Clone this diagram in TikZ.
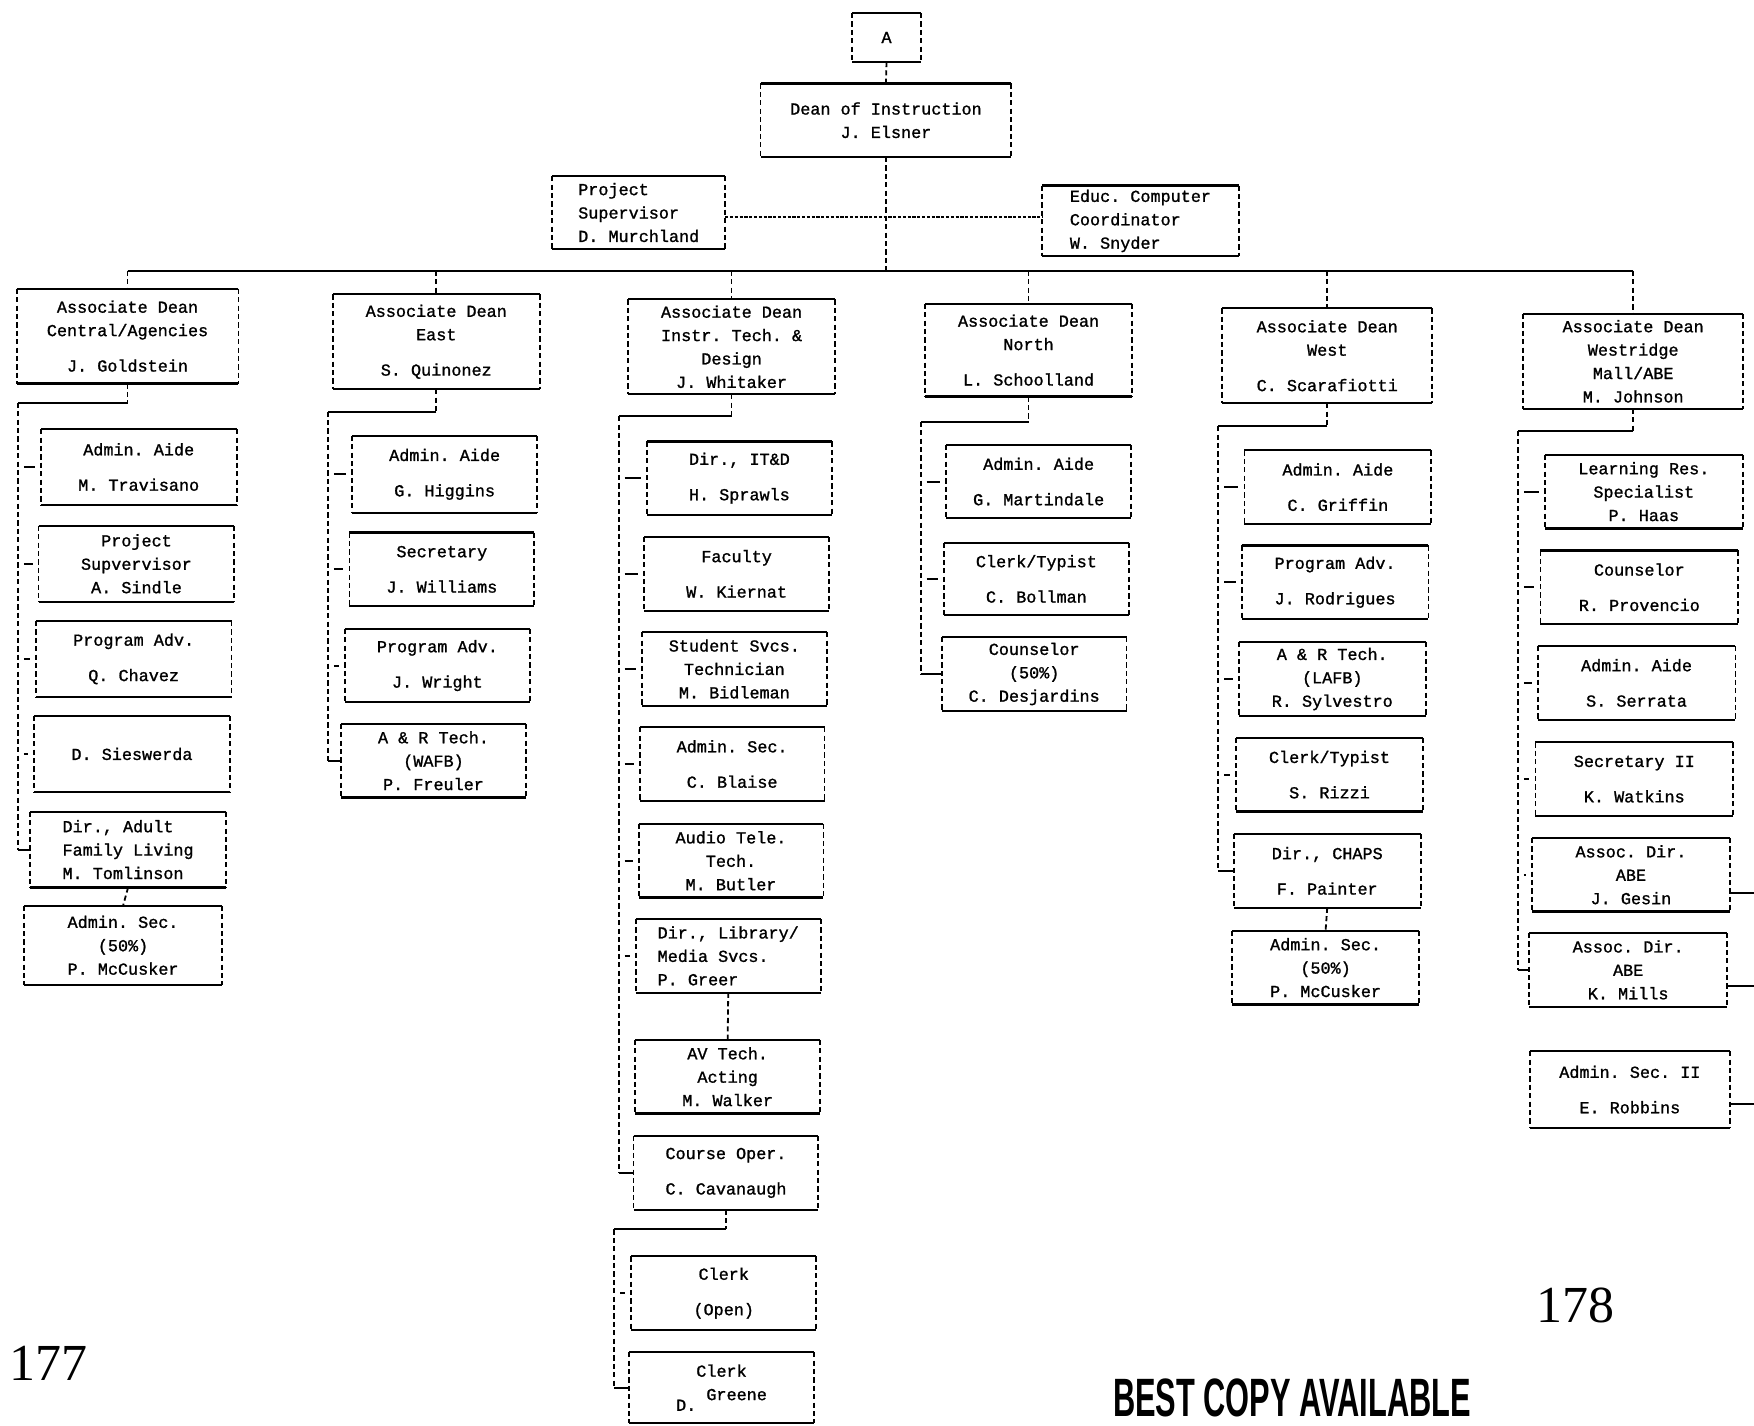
\documentclass[tikz,border=0pt]{standalone}
\usepackage{fontspec}
\setmonofont[FakeBold=1.2]{Liberation Mono}
\newfontfamily\numfont{Liberation Serif}
\newfontfamily\stampfont{Liberation Sans}
\newcommand\unitfont{\ttfamily\fontsize{8.4}{11.7}\selectfont}

\tikzset{
  unit/.style={font=\unitfont, align=center, inner sep=1pt, minimum width=92pt, minimum height=36.4pt},
  wideunit/.style={unit, minimum width=97.5pt, minimum height=37.5pt},
  broadunit/.style={unit, minimum width=98.5pt},
  adean/.style={unit, minimum width=103pt, minimum height=47pt},
  rim/.style={line width=1.1pt},
  side/.style={line width=0.9pt, dash pattern=on 2.6pt off 1.6pt},
  vlink/.style={line width=0.9pt, dash pattern=on 2.6pt off 1.6pt},
  hlink/.style={line width=1pt},
  tick/.style={line width=1pt, shorten <=3pt, shorten >=3pt},
  staff/.style={line width=0.9pt, dash pattern=on 1.6pt off 0.8pt},
}

\begin{document}
\begin{tikzpicture}[x=0.5593pt,y=0.5593pt,yscale=-1,xscale=1]
\useasboundingbox (0,0) rectangle (1568,1274);

% Top of the chart
\node[unit, minimum width=34pt, minimum height=24pt] (a) at (792.5,33.5) {A};
\node[unit, minimum width=125pt] (dean) at (792,107.5) {Dean of Instruction\\J. Elsner};
\node[unit, align=left, minimum width=86pt, minimum height=36pt] (ps) at (571,190) {Project\\Supervisor\\D. Murchland};
\node[unit, align=left, minimum width=98pt, minimum height=35pt] (ec) at (1019.5,197.5) {Educ. Computer\\Coordinator\\W. Snyder};

% Associate Deans
\node[adean, minimum width=110.5pt] (ad1) at (114,300.5) {Associate Dean\\Central/Agencies\\[6pt]J. Goldstein};
\node[adean] (ad2) at (390,305.5) {Associate Dean\\East\\[6pt]S. Quinonez};
\node[adean] (ad3) at (654,310) {Associate Dean\\Instr. Tech. \&\\Design\\J. Whitaker};
\node[adean, minimum height=46pt] (ad4) at (919.5,313) {Associate Dean\\North\\[6pt]L. Schoolland};
\node[adean, minimum width=104.5pt] (ad5) at (1186.5,318) {Associate Dean\\West\\[6pt]C. Scarafiotti};
\node[adean, minimum width=109.5pt] (ad6) at (1460,323) {Associate Dean\\Westridge\\Mall/ABE\\M. Johnson};

% Central/Agencies
\node[wideunit] (c11) at (124,417.5) {Admin. Aide\\[6pt]M. Travisano};
\node[wideunit] (c12) at (122,504) {Project\\Supvervisor\\A. Sindle};
\node[wideunit] (c13) at (119.5,589) {Program Adv.\\[6pt]Q. Chavez};
\node[wideunit] (c14) at (118,674) {D. Sieswerda};
\node[wideunit, align=left] (c15) at (114.5,759.5) {Dir., Adult\\Family Living\\M. Tomlinson};
\node[wideunit, minimum width=98.5pt, minimum height=39pt] (c16) at (110,845) {Admin. Sec.\\(50\%)\\P. McCusker};

% East
\node[unit, minimum height=38pt] (c21) at (397.5,424) {Admin. Aide\\[6pt]G. Higgins};
\node[unit] (c22) at (395,509) {Secretary\\[6pt]J. Williams};
\node[unit] (c23) at (391,595) {Program Adv.\\[6pt]J. Wright};
\node[unit] (c24) at (387.5,680) {A \& R Tech.\\(WAFB)\\P. Freuler};

% Instr. Tech. & Design
\node[unit] (c31) at (661,427.5) {Dir., IT\&D\\[6pt]H. Sprawls};
\node[unit] (c32) at (658.5,513) {Faculty\\[6pt]W. Kiernat};
\node[unit] (c33) at (656.5,598) {Student Svcs.\\Technician\\M. Bidleman};
\node[unit] (c34) at (654.5,683) {Admin. Sec.\\[6pt]C. Blaise};
\node[unit] (c35) at (653.5,769.5) {Audio Tele.\\Tech.\\M. Butler};
\node[unit, align=left] (c36) at (651,854.5) {Dir., Library/\\Media Svcs.\\P. Greer};
\node[unit] (c37) at (650.5,962.5) {AV Tech.\\Acting\\M. Walker};
\node[unit] (c38) at (649,1048.5) {Course Oper.\\[6pt]C. Cavanaugh};
\node[unit] (c39) at (647,1156) {Clerk\\[6pt](Open)};
\node[unit, minimum height=35pt] (c310) at (645,1240.5) {Clerk\\\raisebox{-1.2ex}{D.}\ Greene};

% North
\node[unit] (c41) at (928.5,430.5) {Admin. Aide\\[6pt]G. Martindale};
\node[unit, minimum height=35.5pt] (c42) at (926.5,517.5) {Clerk/Typist\\[6pt]C. Bollman};
\node[unit] (c43) at (924.5,602.5) {Counselor\\(50\%)\\C. Desjardins};

% West
\node[unit, minimum width=93pt] (c51) at (1196,435.5) {Admin. Aide\\[6pt]C. Griffin};
\node[unit, minimum width=93pt] (c52) at (1193.5,520.5) {Program Adv.\\[6pt]J. Rodrigues};
\node[unit, minimum width=93pt] (c53) at (1191,607) {A \& R Tech.\\(LAFB)\\R. Sylvestro};
\node[unit, minimum width=93pt] (c54) at (1188.5,692.5) {Clerk/Typist\\[6pt]S. Rizzi};
\node[unit, minimum width=93pt] (c55) at (1186.5,778.5) {Dir., CHAPS\\[6pt]F. Painter};
\node[unit, minimum width=93pt] (c56) at (1185,865) {Admin. Sec.\\(50\%)\\P. McCusker};

% Westridge Mall/ABE
\node[broadunit] (c61) at (1469.5,439.5) {Learning Res.\\Specialist\\P. Haas};
\node[broadunit] (c62) at (1465.5,525) {Counselor\\[6pt]R. Provencio};
\node[broadunit] (c63) at (1463,610.5) {Admin. Aide\\[6pt]S. Serrata};
\node[broadunit] (c64) at (1461,696.5) {Secretary II\\[6pt]K. Watkins};
\node[broadunit] (c65) at (1458,782) {Assoc. Dir.\\ABE\\J. Gesin};
\node[broadunit] (c66) at (1455.5,867) {Assoc. Dir.\\ABE\\K. Mills};
\node[broadunit, minimum width=99.5pt, minimum height=38pt] (c67) at (1457,974) {Admin. Sec. II\\[6pt]E. Robbins};

% Box outlines: solid top and bottom, dashed sides
\foreach \b in {a,dean,ps,ec,ad1,ad2,ad3,ad4,ad5,ad6,c11,c12,c13,c14,c15,c16,c21,c22,c23,c24,c31,c32,c33,c34,c35,c36,c37,c38,c39,c310,c41,c42,c43,c51,c52,c53,c54,c55,c56,c61,c62,c63,c64,c65,c66,c67} {
  \draw[rim] (\b.north west) -- (\b.north east) (\b.south west) -- (\b.south east);
  \draw[side] (\b.north west) -- (\b.south west) (\b.north east) -- (\b.south east);
}

% Line of authority
\coordinate (busL) at (114,242);
\coordinate (busR) at (1460,242);
\draw[vlink] (a.south) -- (dean.north);
\draw[vlink] (dean.south) -- (dean.south |- busL);
\draw[hlink] (busL) -- (busR);
\foreach \d in {ad1,ad2,ad3,ad4,ad5,ad6}
  \draw[vlink] (\d.north |- busL) -- (\d.north);

% Staff positions
\coordinate (st) at (792,194);
\draw[staff] (ps.east |- st) -- (ec.west |- st);

% Spines under each Associate Dean
\coordinate (s1) at (16,360);
\coordinate (s2) at (293,368);
\coordinate (s3) at (553,372);
\coordinate (s4) at (823,377);
\coordinate (s5) at (1089,381);
\coordinate (s6) at (1357,385);
\coordinate (s7) at (549,1099);
\foreach \d/\s/\l in {ad1/s1/c15,ad2/s2/c24,ad3/s3/c38,ad4/s4/c43,ad5/s5/c55,ad6/s6/c66,c38/s7/c310} {
  \draw[vlink] (\d.south) -- (\d.south |- \s);
  \draw[hlink] (\d.south |- \s) -- (\s);
  \draw[vlink] (\s) -- (\s |- \l.west);
  \draw[hlink] (\s |- \l.west) -- (\l.west);
}
\foreach \s/\c in {s1/c11,s1/c12,s1/c13,s1/c14,s2/c21,s2/c22,s2/c23,s3/c31,s3/c32,s3/c33,s3/c34,s3/c35,s3/c36,s4/c41,s4/c42,s5/c51,s5/c52,s5/c53,s5/c54,s6/c61,s6/c62,s6/c63,s6/c64,s6/c65,s7/c39}
  \draw[tick] (\s |- \c.west) -- (\c.west);

% Single drops
\draw[vlink] (c15.south) -- (c16.north);
\draw[vlink] (c36.south) -- (c37.north);
\draw[vlink] (c55.south) -- (c56.north);

% Lines running off the page
\coordinate (e1) at (1568,798);
\coordinate (e2) at (1568,881);
\coordinate (e3) at (1568,987);
\draw[hlink] (c65.east |- e1) -- (e1);
\draw[hlink] (c66.east |- e2) -- (e2);
\draw[hlink] (c67.east |- e3) -- (e3);

% Page marks
\node[font=\numfont\fontsize{26}{28}\selectfont] (p177) at (43,1219) {177};
\node[font=\numfont\fontsize{26}{28}\selectfont] (p178) at (1408,1167) {178};
\node[font=\stampfont\bfseries\fontsize{27}{29}\selectfont] (stamp) at (1155,1250) {\scalebox{0.57}[1]{BEST COPY AVAILABLE}};

\end{tikzpicture}
\end{document}
